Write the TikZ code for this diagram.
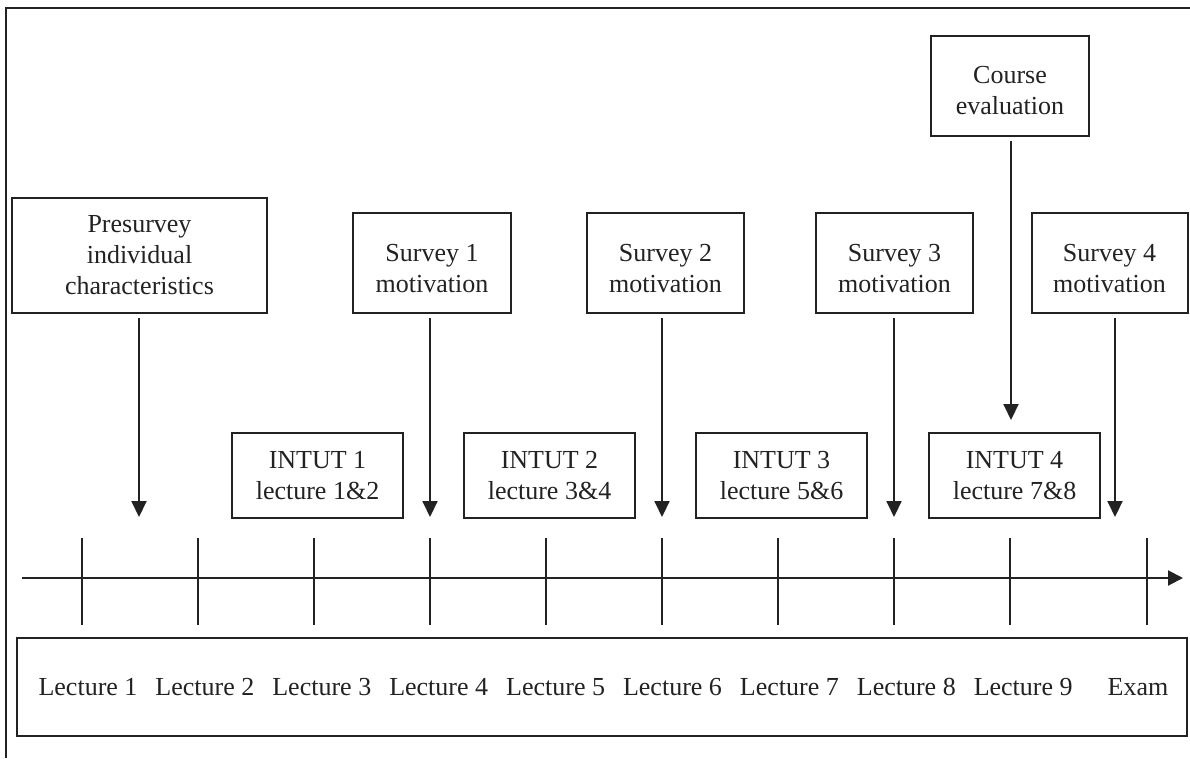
\documentclass[tikz,border=0pt]{standalone}
\usepackage{fontspec}
\setmainfont{Liberation Serif}
\usetikzlibrary{arrows.meta}
\definecolor{ink}{HTML}{222222}
\begin{document}
\begin{tikzpicture}[x=1pt,y=-1pt,
  every node/.style={font=\fontsize{26}{31}\selectfont, text=ink},
  box/.style={draw=ink, line width=2pt, inner sep=0pt, align=center},
  txt/.style={inner sep=0pt, align=center},
  link/.style={draw=ink, line width=2pt, shorten <=4pt,
               -{Triangle[length=16pt,width=15pt]}},
  rule/.style={draw=ink, line width=2pt},
  lbl/.style={inner sep=0pt, anchor=center}
]
\useasboundingbox (0,0) rectangle (1190,758);

% frame edges
\draw[rule] (1190,8) -- (6,8) -- (6,758);

% survey and evaluation boxes
\node[box, minimum width=255pt, minimum height=115pt] (pre) at (139.5,255.5)
  {Presurvey\\individual\\characteristics};
\node[box, minimum width=158pt, minimum height=100pt] (s1) at (432,263) {};
\node[box, minimum width=157pt, minimum height=100pt] (s2) at (665.5,263) {};
\node[box, minimum width=157pt, minimum height=100pt] (s3) at (894.5,263) {};
\node[box, minimum width=156pt, minimum height=100pt] (s4) at (1109.5,262.5) {};
\node[box, minimum width=158pt, minimum height=100pt] (ce) at (1010,86) {};
\node[txt] (s1t) at ([yshift=-6pt]s1.center) {Survey 1\\motivation};
\node[txt] (s2t) at ([yshift=-6pt]s2.center) {Survey 2\\motivation};
\node[txt] (s3t) at ([yshift=-6pt]s3.center) {Survey 3\\motivation};
\node[txt] (s4t) at ([yshift=-6pt]s4.center) {Survey 4\\motivation};
\node[txt] (cet) at ([yshift=-5pt]ce.center) {Course\\evaluation};

% tutorial boxes
\node[box, minimum width=171pt, minimum height=85pt] (i1) at (317.5,475.5)
  {INTUT 1\\lecture 1\&2};
\node[box, minimum width=171pt, minimum height=85pt] (i2) at (549.5,475.5)
  {INTUT 2\\lecture 3\&4};
\node[box, minimum width=171pt, minimum height=85pt] (i3) at (781.5,475.5)
  {INTUT 3\\lecture 5\&6};
\node[box, minimum width=171pt, minimum height=85pt] (i4) at (1014.5,475.5)
  {INTUT 4\\lecture 7\&8};

% arrow tips
\coordinate (tpre) at (139,517);
\coordinate (t1) at (430,517);
\coordinate (t2) at (662,517);
\coordinate (t3) at (894,517);
\coordinate (t4) at (1115,517);
\coordinate (tce) at (1011,420);

\draw[link] (pre.south -| tpre) -- (tpre);
\draw[link] (s1.south -| t1) -- (t1);
\draw[link] (s2.south -| t2) -- (t2);
\draw[link] (s3.south -| t3) -- (t3);
\draw[link] (s4.south -| t4) -- (t4);
\draw[link] (ce.south -| tce) -- (tce);

% time axis with ticks
\coordinate (ax0) at (22,578);
\coordinate (ax1) at (1183,578);
\draw[rule, -{Triangle[length=15pt,width=15pt]}] (ax0) -- (ax1);
\foreach \x in {82,198,314,430,546,662,778,894,1010,1147}
  \draw[rule] (\x,538) -- (\x,625);

% lecture schedule
\node[box, minimum width=1170pt, minimum height=98pt] (sched) at (602,687) {};
\foreach \i in {1,...,9}
  \node[lbl] (lec\i) at ({88+116.9*(\i-1)},687) {Lecture \i};
\node[lbl] (exam) at (1138,687) {Exam};
\end{tikzpicture}
\end{document}
